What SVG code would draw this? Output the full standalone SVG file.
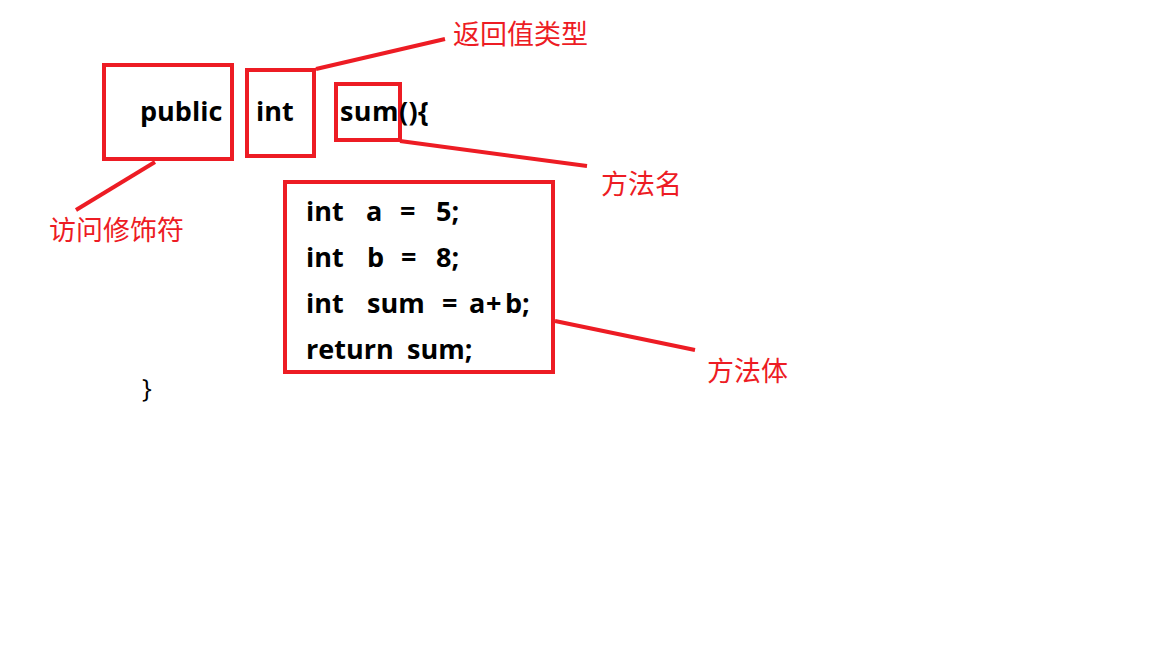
<svg xmlns="http://www.w3.org/2000/svg" width="1152" height="648" viewBox="0 0 1152 648">
<style>
.box{fill:none;stroke:#ed1c24;stroke-width:4}
.ln{stroke:#ed1c24;stroke-width:4;fill:none}
.code{font-family:"Open Sans","Noto Sans",sans-serif;font-weight:bold;font-size:27px;fill:#000}
.brace{font-family:"Open Sans","Noto Sans",sans-serif;font-size:26px;fill:#000}
.lbl{font-family:"Noto Sans CJK SC","Noto Sans",sans-serif;font-size:27px;fill:#ed1c24}
</style>
<rect width="1152" height="648" fill="#fff"/>
<g id="connectors">
<line class="ln" x1="155" y1="162" x2="76" y2="210"/>
<line class="ln" x1="316" y1="69" x2="445" y2="39"/>
<line class="ln" x1="400" y1="141" x2="587" y2="166"/>
<line class="ln" x1="555" y1="321" x2="695" y2="350"/>
</g>
<g id="public">
<rect class="box" x="104" y="65" width="128" height="94"/>
<text class="code" x="140" y="121">public</text>
</g>
<g id="int">
<rect class="box" x="247" y="70" width="67" height="86"/>
<text class="code" x="256" y="121">int</text>
</g>
<g id="sum">
<rect class="box" x="336" y="84" width="64" height="56"/>
<text class="code" x="340" y="121" letter-spacing="0.4">sum(){</text>
</g>
<g id="body">
<rect class="box" x="285" y="182" width="268" height="190"/>
<text class="code" y="221"><tspan x="306">int</tspan><tspan x="366">a</tspan><tspan x="400">=</tspan><tspan x="436">5;</tspan></text>
<text class="code" y="267"><tspan x="306">int</tspan><tspan x="367">b</tspan><tspan x="401">=</tspan><tspan x="436">8;</tspan></text>
<text class="code" y="313"><tspan x="306">int</tspan><tspan x="367">sum</tspan><tspan x="442">=</tspan><tspan x="469">a</tspan><tspan x="486">+</tspan><tspan x="505">b;</tspan></text>
<text class="code" y="359"><tspan x="306">return</tspan><tspan x="407">sum;</tspan></text>
</g>
<g id="close">
<text class="brace" x="142" y="397">}</text>
</g>
<g id="label-return-type">
<text class="lbl" x="453" y="44">返回值类型</text>
</g>
<g id="label-method-name">
<text class="lbl" x="601" y="194">方法名</text>
</g>
<g id="label-access">
<text class="lbl" x="49" y="240">访问修饰符</text>
</g>
<g id="label-body">
<text class="lbl" x="707" y="381">方法体</text>
</g>
</svg>
